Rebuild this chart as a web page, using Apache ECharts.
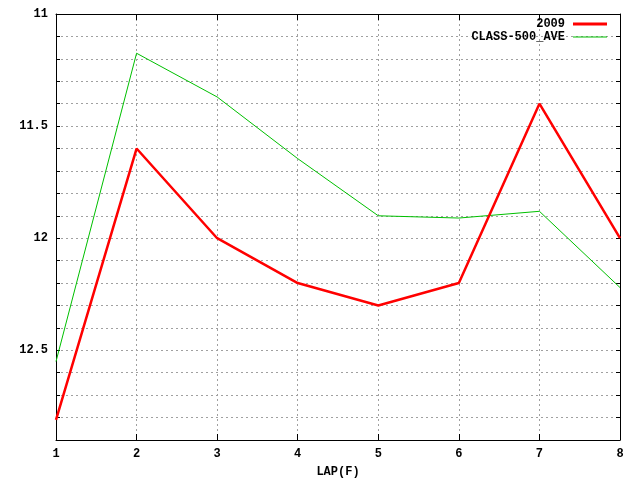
<!DOCTYPE html>
<html><head><meta charset="utf-8">
<script src="https://cdn.jsdelivr.net/npm/echarts@6/dist/echarts.min.js"></script>
<style>html,body{margin:0;padding:0;background:#fff}#c{width:640px;height:480px}</style>
</head><body><div id="c"></div>
<script>
const laps = [1, 2, 3, 4, 5, 6, 7, 8];
const series2009 = [12.81, 11.6, 12.0, 12.2, 12.3, 12.2, 11.4, 12.0];
const seriesAve = [12.55, 11.175, 11.37, 11.645, 11.9, 11.91, 11.88, 12.22];
const xTicks = [1, 2, 3, 4, 5, 6, 7, 8];
const yLabels = [11, 11.5, 12, 12.5];

const font = 'Liberation Mono';
const chart = echarts.init(document.getElementById('c'));
const yLabelFmt = v => {
  const r = Math.round(v * 10) / 10;
  return yLabels.some(l => Math.abs(l - r) < 1e-6) ? String(r) : '';
};
const legendText = { fontFamily: font, fontWeight: 'bold', fontSize: 12, color: '#000', padding: [0, 3, 0, 0] };
chart.setOption({
  animation: false,
  backgroundColor: '#fff',
  grid: { left: 56, right: 20, top: 14, bottom: 40, outerBoundsMode: 'none', containLabel: false },
  legend: [{
    orient: 'vertical', right: 33, top: 18, align: 'right', padding: 0,
    itemWidth: 34, itemHeight: 3, icon: 'rect',
    textStyle: legendText, data: ['2009']
  }, {
    orient: 'vertical', right: 33, top: 31, align: 'right', padding: 0,
    itemWidth: 34, itemHeight: 1, icon: 'rect',
    textStyle: legendText, data: ['CLASS-500_AVE']
  }],
  xAxis: [{
    type: 'value', min: 1, max: 8, interval: 1,
    name: 'LAP(F)', nameLocation: 'middle', nameGap: 26,
    nameTextStyle: { fontFamily: font, fontWeight: 'bold', fontSize: 12, color: '#000' },
    axisLine: { lineStyle: { color: '#000', width: 1 } },
    axisTick: { inside: true, length: 6, lineStyle: { color: '#000' } },
    axisLabel: { fontFamily: font, fontWeight: 'bold', fontSize: 12, color: '#000', margin: 8,
      formatter: v => xTicks.includes(v) ? String(v) : '' },
    splitLine: { show: true, lineStyle: { color: '#a0a0a0', type: [2, 3], width: 1 } }
  }, {
    type: 'value', min: 1, max: 8, interval: 1, position: 'top',
    axisLine: { lineStyle: { color: '#000', width: 1 } },
    axisTick: { inside: true, length: 6, lineStyle: { color: '#000' } },
    axisLabel: { show: false }, splitLine: { show: false }
  }],
  yAxis: [{
    type: 'value', min: 11, max: 12.9, interval: 0.1, inverse: true,
    axisLine: { show: true, lineStyle: { color: '#000', width: 1 } },
    axisTick: { show: true, inside: true, length: 4, lineStyle: { color: '#000' } },
    axisLabel: { fontFamily: font, fontWeight: 'bold', fontSize: 12, color: '#000', margin: 8,
      formatter: yLabelFmt, showMinLabel: true, showMaxLabel: false, hideOverlap: false },
    splitLine: { show: true, lineStyle: { color: '#a0a0a0', type: [2, 3], width: 1 } }
  }, {
    type: 'value', min: 11, max: 12.9, interval: 0.1, inverse: true, position: 'right',
    axisLine: { show: true, lineStyle: { color: '#000', width: 1 } },
    axisTick: { show: true, inside: true, length: 4, lineStyle: { color: '#000' } },
    axisLabel: { show: false }, splitLine: { show: false }
  }],
  series: [{
    name: '2009', type: 'line', symbol: 'none',
    data: laps.map((x, i) => [x, series2009[i]]),
    lineStyle: { color: '#ff0000', width: 2.5 }, itemStyle: { color: '#ff0000' }, z: 3
  }, {
    name: 'CLASS-500_AVE', type: 'line', symbol: 'none',
    data: laps.map((x, i) => [x, seriesAve[i]]),
    lineStyle: { color: '#00c000', width: 1 }, itemStyle: { color: '#00c000' }, z: 2
  }]
});
</script></body></html>
